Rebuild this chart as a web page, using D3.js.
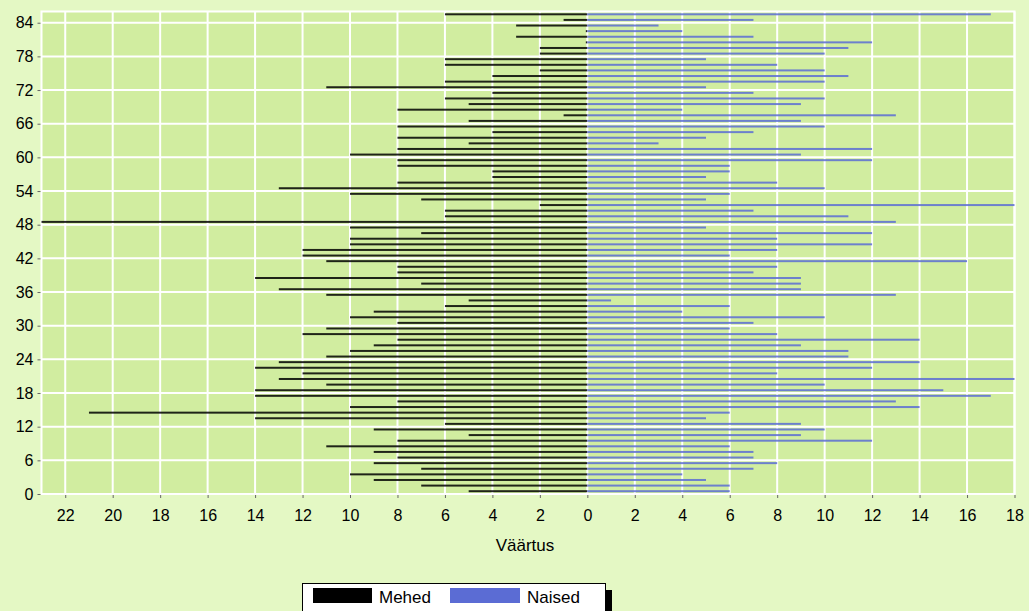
<!DOCTYPE html>
<html>
<head>
<meta charset="utf-8">
<script src="https://cdn.jsdelivr.net/npm/d3@7"></script>
<style>
  html, body { margin: 0; padding: 0; background: #e4f8c4; }
  svg { display: block; }
  text { font-family: "Liberation Sans", Arial, sans-serif; }
</style>
</head>
<body>
<svg id="chart" width="1029" height="611"></svg>
<script>
// Ages 0..85 (bottom to top)
const ages = d3.range(0, 86);
// Mehed (men) counts by age 0..85
const mehed = [5,7,9,10,7,9,8,9,11,8, 5,9,6,14,21,10,8,14,14,11,
               13,12,14,13,11,10,9,8,12,11, 8,10,9,6,5,11,13,7,14,8,
               8,11,12,12,10,10,7,10,23,6, 6,2,7,10,13,8,4,4,8,8,
               10,8,5,8,4,8,5,1,8,5, 6,4,11,6,4,2,6,6,2,2,
               0,3,0,3,1,6];
// Naised (women) counts by age 0..85
const naised = [6,6,5,4,7,8,7,7,6,12, 9,10,9,5,6,14,13,17,15,10,
                18,8,12,14,11,11,9,14,8,6, 7,10,4,6,1,13,9,9,9,7,
                8,16,6,8,12,8,12,5,13,11, 7,18,5,6,10,8,5,6,6,12,
                9,12,3,5,7,10,9,13,4,9, 10,7,5,10,11,10,8,5,10,11,
                12,7,4,3,7,17];
const yTicks = [0,6,12,18,24,30,36,42,48,54,60,66,72,78,84];
const xTicks = [-22,-20,-18,-16,-14,-12,-10,-8,-6,-4,-2,0,2,4,6,8,10,12,14,16,18];
const seriesNames = ["Mehed", "Naised"];
const seriesColors = ["#000000", "#5b6cd4"];
const axisTitle = "Väärtus";

const svg = d3.select("#chart");
const W = 1029, H = 611;
const plot = {left: 41.5, right: 1014.5, top: 11.5, bottom: 494};

svg.append("rect").attr("width", W).attr("height", H).attr("fill", "#e4f8c4");

const x = d3.scaleLinear().domain([-23, 18]).range([plot.left, plot.right]);
const y = d3.scaleLinear().domain([0, 86]).range([plot.bottom, plot.top]);

// plot background
svg.append("rect")
  .attr("x", plot.left).attr("y", plot.top)
  .attr("width", plot.right - plot.left).attr("height", plot.bottom - plot.top)
  .attr("fill", "#d1eda0");

// grid
const grid = svg.append("g").attr("stroke", "#ffffff").attr("stroke-width", 2);
grid.selectAll("line.v").data(xTicks).join("line")
  .attr("x1", d => x(d)).attr("x2", d => x(d))
  .attr("y1", plot.top).attr("y2", plot.bottom);
grid.selectAll("line.h").data(yTicks).join("line")
  .attr("y1", d => y(d)).attr("y2", d => y(d))
  .attr("x1", plot.left).attr("x2", plot.right);
svg.append("rect")
  .attr("x", plot.left).attr("y", plot.top)
  .attr("width", plot.right - plot.left).attr("height", plot.bottom - plot.top)
  .attr("fill", "none").attr("stroke", "#ffffff").attr("stroke-width", 2);

// bars
const barH = 2;
svg.append("g").selectAll("rect").data(ages).join("rect")
  .attr("x", d => Math.min(x(-mehed[d]), x(0) - 1.5))
  .attr("y", d => y(d + 0.5) - barH / 2)
  .attr("width", d => Math.max(x(0) - x(-mehed[d]), 1.5))
  .attr("height", barH)
  .attr("fill", seriesColors[0])
  .attr("fill-opacity", 0.85);
svg.append("g").selectAll("rect").data(ages).join("rect")
  .attr("x", x(0))
  .attr("y", d => y(d + 0.5) - barH / 2)
  .attr("width", d => x(naised[d]) - x(0))
  .attr("height", barH)
  .attr("fill", seriesColors[1])
  .attr("fill-opacity", 0.85);

// axes
const xAxis = d3.axisBottom(x).tickValues(xTicks).tickSize(3).tickPadding(12)
  .tickFormat(d => Math.abs(d));
const gx = svg.append("g").attr("transform", `translate(0,${plot.bottom + 1})`).call(xAxis);
gx.select(".domain").remove();
gx.selectAll("line").attr("stroke", "#666");
gx.selectAll("text").attr("font-size", 16).attr("fill", "#000")
  .attr("font-family", "'Liberation Sans', Arial, sans-serif");

const yAxis = d3.axisLeft(y).tickValues(yTicks).tickSize(3).tickPadding(4);
const gy = svg.append("g").attr("transform", `translate(${plot.left - 1},0)`).call(yAxis);
gy.select(".domain").remove();
gy.selectAll("line").attr("stroke", "#666");
gy.selectAll("text").attr("font-size", 16).attr("fill", "#000")
  .attr("font-family", "'Liberation Sans', Arial, sans-serif");

svg.append("text")
  .attr("x", (plot.left + plot.right) / 2 - 3).attr("y", 551)
  .attr("text-anchor", "middle").attr("font-size", 17).attr("fill", "#000")
  .text(axisTitle);

// legend
const lg = svg.append("g");
lg.append("rect").attr("x", 309).attr("y", 590).attr("width", 303).attr("height", 40).attr("fill", "#000");
lg.append("rect").attr("x", 302.5).attr("y", 583.5).attr("width", 303).attr("height", 40)
  .attr("fill", "#ffffff").attr("stroke", "#000").attr("stroke-width", 1);
const items = [
  {name: seriesNames[0], color: seriesColors[0], sx: 313, sw: 59, tx: 379},
  {name: seriesNames[1], color: seriesColors[1], sx: 450, sw: 70, tx: 527}
];
items.forEach(it => {
  lg.append("rect").attr("x", it.sx).attr("y", 588).attr("width", it.sw).attr("height", 15).attr("fill", it.color);
  lg.append("text").attr("x", it.tx).attr("y", 603).attr("font-size", 17).attr("fill", "#000").text(it.name);
});
</script>
</body>
</html>
